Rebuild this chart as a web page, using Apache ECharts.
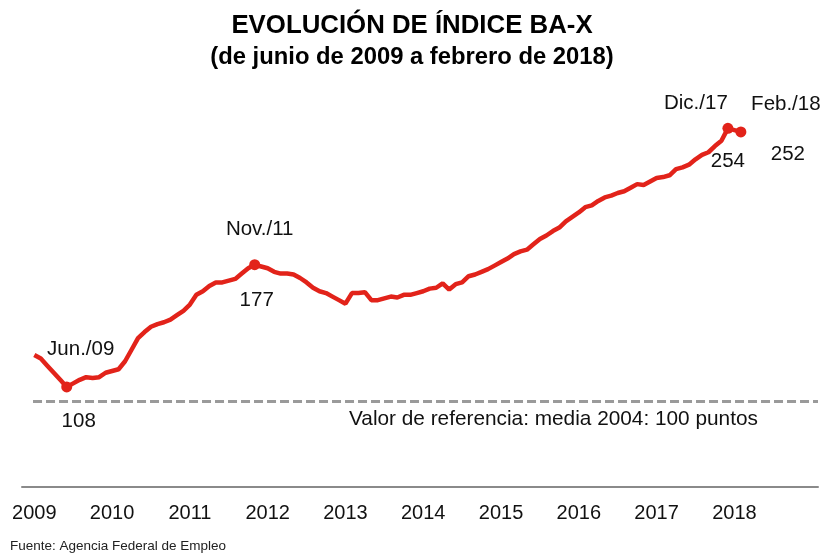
<!DOCTYPE html>
<html>
<head>
<meta charset="utf-8">
<script src="https://cdn.jsdelivr.net/npm/echarts@6/dist/echarts.min.js"></script>
<style>
  html, body { margin: 0; padding: 0; background: #fff; }
  #main { width: 824px; height: 554px; }
</style>
</head>
<body>
<div id="main"></div>
<script>
// monthly index values, Jan 2009 (month 0) .. Feb 2018 (month 109)
var indexValues = [
    126, 124, 120, 116, 112, 108, 110, 112, 113.5, 113, 113.5, 116,   // 2009
    117, 118, 122.5, 129, 135.5, 139, 142, 143.5, 144.5, 146, 148.5, 151, // 2010
    154.5, 160, 162, 165, 167, 167, 168, 169, 172, 175, 177, 176,   // 2011
    175, 173, 172, 172, 171.5, 169.5, 167, 164, 162, 161, 159, 157, // 2012
    155, 161, 161, 161.5, 157, 157, 158, 159, 158.5, 160, 160, 161, // 2013
    162, 163.5, 164, 166.5, 163, 166, 167, 170.5, 171.5, 173, 174.5, 176.5, // 2014
    178.5, 180.5, 183, 184.5, 185.5, 188.5, 191.5, 193.5, 196, 198, 201.5, 204, // 2015
    206.5, 209.5, 210.5, 213, 215, 216, 217.5, 218.5, 220.5, 222.5, 222, 224, // 2016
    226, 226.5, 227.5, 231, 232, 233.5, 236.5, 239, 240.5, 244, 247, 254, // 2017
    253, 252                                                         // 2018
];
var years = ['2009', '2010', '2011', '2012', '2013', '2014', '2015', '2016', '2017', '2018'];
var highlightNames = ['Jun./09', 'Nov./11', 'Dic./17', 'Feb./18'];
var highlightMonths = [5, 34, 107, 109];
var referenceValue = 100;

// label offsets (name above / value below each dot)
var nameOffsets = [[14, -38], [5, -35], [-32, -25], [45, -28]];
var valueOffsets = [[12, 34], [2, 36], [0, 33], [47, 22]];

var RED = '#e2231a';
var FONT = 'Liberation Sans, Arial, sans-serif';

var lineData = indexValues.map(function (v, i) { return [i, v]; });
var yearTicks = years.map(function (y, i) { return i * 12; });

var dotData = highlightMonths.map(function (m, i) {
    return {
        value: [m, indexValues[m]],
        label: { formatter: highlightNames[i], offset: nameOffsets[i] }
    };
});
var valueLabelData = highlightMonths.map(function (m, i) {
    return {
        value: [m, indexValues[m]],
        label: { formatter: String(Math.round(indexValues[m])), offset: valueOffsets[i] }
    };
});

var myChart = echarts.init(document.getElementById('main'));

var option = {
    backgroundColor: '#fff',
    animation: false,
    title: [
        {
            text: 'EVOLUCIÓN DE ÍNDICE BA-X',
            left: 'center',
            top: 8,
            textStyle: { fontFamily: FONT, fontSize: 25.8, fontWeight: 'bold', color: '#000' }
        },
        {
            text: '(de junio de 2009 a febrero de 2018)',
            left: 'center',
            top: 40,
            textStyle: { fontFamily: FONT, fontSize: 23.8, fontWeight: 'bold', color: '#000' }
        }
    ],
    grid: { left: 22, right: 6, top: 100, bottom: 67 },
    xAxis: {
        type: 'value',
        min: -1.9,
        max: 120.9,
        splitLine: { show: false },
        axisTick: { show: false },
        axisLine: { show: true, lineStyle: { color: '#8a8a8a', width: 2 } },
        axisLabel: {
            customValues: yearTicks,
            formatter: function (v) { return years[Math.round(v / 12)]; },
            margin: 16,
            fontFamily: FONT,
            fontSize: 20,
            color: '#111'
        }
    },
    yAxis: {
        type: 'value',
        min: 51.5,
        max: 270,
        show: false,
        splitLine: { show: false }
    },
    graphic: [
        {
            type: 'text',
            left: 349,
            top: 409,
            style: {
                text: 'Valor de referencia: media 2004: 100 puntos',
                font: '20.8px ' + FONT,
                fill: '#111'
            }
        },
        {
            type: 'text',
            left: 10,
            top: 539,
            style: {
                text: 'Fuente: Agencia Federal de Empleo',
                font: '13.5px ' + FONT,
                fill: '#222'
            }
        }
    ],
    series: [
        {
            type: 'line',
            data: lineData,
            symbol: 'none',
            lineStyle: { color: RED, width: 4.5 },
            z: 3,
            markLine: {
                silent: true,
                symbol: 'none',
                label: { show: false },
                lineStyle: { color: '#9a9a9a', width: 3, type: [9, 4] },
                data: [[{ coord: [-0.2, referenceValue] }, { coord: [120.9, referenceValue] }]]
            }
        },
        {
            type: 'scatter',
            data: dotData,
            symbolSize: 11,
            itemStyle: { color: RED, opacity: 1 },
            z: 4,
            label: {
                show: true,
                position: 'inside',
                fontFamily: FONT,
                fontSize: 20.5,
                color: '#111'
            }
        },
        {
            type: 'scatter',
            data: valueLabelData,
            symbolSize: 0,
            itemStyle: { opacity: 1 },
            z: 4,
            label: {
                show: true,
                position: 'inside',
                fontFamily: FONT,
                fontSize: 20.5,
                color: '#111'
            }
        }
    ]
};

myChart.setOption(option);
</script>
</body>
</html>
